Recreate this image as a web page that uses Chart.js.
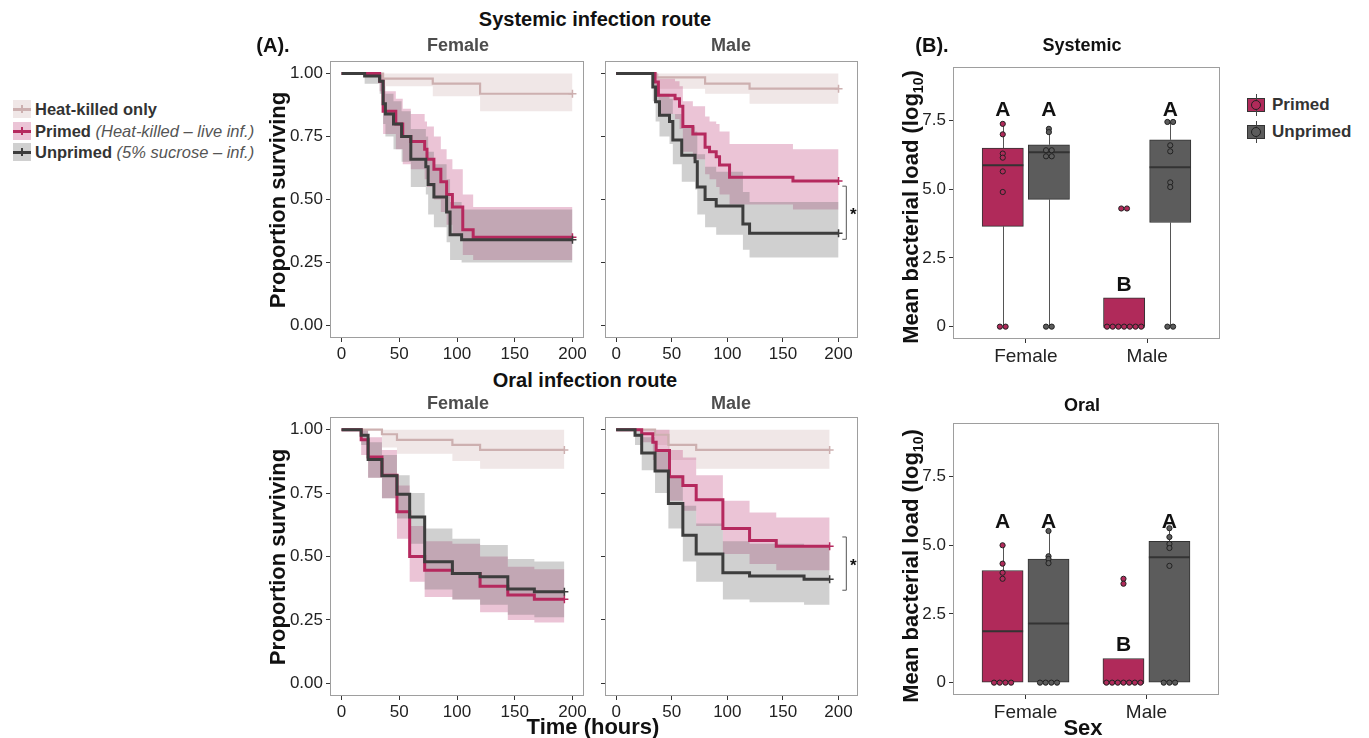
<!DOCTYPE html>
<html>
<head>
<meta charset="utf-8">
<script src="https://cdn.jsdelivr.net/npm/chart.js@4.4.1/dist/chart.umd.min.js"></script>
<style>
  body { margin: 0; background: #fff; font-family: "Liberation Sans", Arial, sans-serif; }
  #fig { position: relative; width: 1369px; height: 738px; overflow: hidden; }
  canvas { position: absolute; }
  .t { position: absolute; white-space: nowrap; color: #111; transform: translate(-50%, -50%); }
  .b { font-weight: bold; }
  .r { transform: translate(-50%, -50%) rotate(-90deg); }
  .strip { font-weight: bold; font-size: 18px; color: #4d4d4d; }
  .leg { position: absolute; left: 35px; font-size: 16.5px; color: #333; white-space: nowrap; transform: translateY(-50%); }
  .leg i { color: #555; font-weight: normal; }
  .key { position: absolute; left: 13px; width: 18px; height: 18px; transform: translateY(-50%); }
  .key .ln { position: absolute; left: 0; right: 0; top: 7.5px; height: 3px; }
  .key .tk { position: absolute; left: 8px; width: 2px; top: 5px; height: 8px; }
  .bkey { position: absolute; left: 1247px; width: 18px; height: 14px; transform: translateY(-50%); box-sizing: border-box; border: 1px solid #333; }
  .bkey .wh { position: absolute; left: 7.5px; width: 1px; top: -5px; height: 22px; background: #444; }
  .bkey .pt { position: absolute; left: 3px; top: 1px; width: 8px; height: 8px; border-radius: 50%; border: 1px solid #222; }
  .bleg { position: absolute; left: 1272px; font-size: 17px; font-weight: bold; color: #333; transform: translateY(-50%); }
</style>
</head>
<body>
<div id="fig">
  <canvas id="sysFem"></canvas>
  <canvas id="sysMale"></canvas>
  <canvas id="oralFem"></canvas>
  <canvas id="oralMale"></canvas>
  <canvas id="sysLoad"></canvas>
  <canvas id="oralLoad"></canvas>

  <div class="t b" style="left:595px;top:19px;font-size:20px;">Systemic infection route</div>
  <div class="t b" style="left:273px;top:45px;font-size:20px;">(A).</div>
  <div class="t strip" style="left:458px;top:45px;">Female</div>
  <div class="t strip" style="left:731px;top:45px;">Male</div>
  <div class="t b" style="left:585px;top:380px;font-size:20px;">Oral infection route</div>
  <div class="t strip" style="left:458px;top:403px;">Female</div>
  <div class="t strip" style="left:731px;top:403px;">Male</div>
  <div class="t b r" style="left:278px;top:200px;font-size:22px;">Proportion surviving</div>
  <div class="t b r" style="left:278px;top:557px;font-size:22px;">Proportion surviving</div>
  <div class="t b" style="left:593px;top:727px;font-size:22px;">Time (hours)</div>

  <div class="t b" style="left:932px;top:45px;font-size:20px;">(B).</div>
  <div class="t b" style="left:1082px;top:45px;font-size:18px;">Systemic</div>
  <div class="t b" style="left:1082px;top:405px;font-size:18px;">Oral</div>
  <div class="t b r" style="left:912px;top:207px;font-size:22px;">Mean bacterial load (log<sub style="font-size:14px;">10</sub>)</div>
  <div class="t b r" style="left:912px;top:566px;font-size:22px;">Mean bacterial load (log<sub style="font-size:14px;">10</sub>)</div>
  <div class="t b" style="left:1083px;top:728px;font-size:22px;">Sex</div>

  <div class="key" style="top:109px;background:rgba(205,176,176,0.3);"><div class="ln" style="background:#cdb0b0;"></div><div class="tk" style="background:#cdb0b0;"></div></div>
  <div class="leg" style="top:109px;"><b>Heat-killed only</b></div>
  <div class="key" style="top:131px;background:rgba(190,60,120,0.3);"><div class="ln" style="background:#b5295e;"></div><div class="tk" style="background:#b5295e;"></div></div>
  <div class="leg" style="top:131px;"><b>Primed</b> <i>(Heat-killed – live inf.)</i></div>
  <div class="key" style="top:152px;background:rgba(100,100,100,0.3);"><div class="ln" style="background:#3d3d3d;"></div><div class="tk" style="background:#3d3d3d;"></div></div>
  <div class="leg" style="top:152px;"><b>Unprimed</b> <i>(5% sucrose – inf.)</i></div>

  <div class="bkey" style="top:105px;background:#b02a5a;"><div class="wh"></div><div class="pt" style="background:#b02a5a;"></div></div>
  <div class="bleg" style="top:105px;">Primed</div>
  <div class="bkey" style="top:132px;background:#5c5c5c;"><div class="wh"></div><div class="pt" style="background:#5c5c5c;"></div></div>
  <div class="bleg" style="top:132px;">Unprimed</div>
</div>

<script>
// ---- axis ticks ----
const timeTicks = [0, 50, 100, 150, 200];
const survTicks = [0, 0.25, 0.5, 0.75, 1];
const loadTicks = [0, 2.5, 5, 7.5];
const sexes = ['Female', 'Male'];

// ---- survival, systemic route, females ----
const sfHeatT = [0, 36, 79, 120, 200];
const sfHeatS = [1, 0.98, 0.96, 0.92, 0.92];
const sfHeatLo = [1, 0.95, 0.91, 0.85, 0.85];
const sfHeatHi = [1, 1, 1, 1, 1];
const sfPrimT = [0, 33, 36, 47, 53, 60, 72, 74, 80, 86, 91, 96, 105, 114, 200];
const sfPrimS = [1, 0.97, 0.85, 0.80, 0.75, 0.73, 0.70, 0.66, 0.62, 0.57, 0.52, 0.47, 0.38, 0.35, 0.35];
const sfPrimLo = [1, 0.93, 0.76, 0.70, 0.64, 0.62, 0.58, 0.55, 0.50, 0.45, 0.40, 0.36, 0.28, 0.26, 0.26];
const sfPrimHi = [1, 1, 0.93, 0.90, 0.86, 0.84, 0.81, 0.79, 0.75, 0.70, 0.66, 0.62, 0.52, 0.47, 0.47];
const sfUnpT = [0, 20, 33, 36, 38, 45, 52, 60, 73, 75, 80, 91, 94, 104, 200];
const sfUnpS = [1, 0.99, 0.97, 0.88, 0.84, 0.80, 0.75, 0.66, 0.63, 0.56, 0.51, 0.45, 0.36, 0.34, 0.34];
const sfUnpLo = [1, 0.96, 0.92, 0.80, 0.75, 0.70, 0.65, 0.55, 0.52, 0.44, 0.39, 0.33, 0.26, 0.25, 0.25];
const sfUnpHi = [1, 1, 1, 0.95, 0.92, 0.89, 0.85, 0.78, 0.75, 0.69, 0.64, 0.58, 0.49, 0.46, 0.46];

// ---- survival, systemic route, males ----
const smHeatT = [0, 36, 80, 120, 200];
const smHeatS = [1, 0.985, 0.96, 0.94, 0.94];
const smHeatLo = [1, 0.94, 0.92, 0.88, 0.88];
const smHeatHi = [1, 1, 1, 1, 1];
const smPrimT = [0, 35, 38, 53, 57, 60, 69, 80, 84, 90, 93, 102, 159, 200];
const smPrimS = [1, 0.967, 0.914, 0.90, 0.87, 0.79, 0.76, 0.707, 0.69, 0.67, 0.637, 0.588, 0.573, 0.573];
const smPrimLo = [1, 0.91, 0.84, 0.82, 0.78, 0.69, 0.66, 0.60, 0.58, 0.55, 0.52, 0.48, 0.46, 0.46];
const smPrimHi = [1, 1, 0.98, 0.97, 0.95, 0.89, 0.87, 0.83, 0.81, 0.80, 0.77, 0.72, 0.70, 0.70];
const smUnpT = [0, 33, 35.5, 39, 48, 51, 59, 71, 73, 80, 90, 114, 120, 200];
const smUnpS = [1, 0.947, 0.888, 0.835, 0.81, 0.736, 0.676, 0.65, 0.55, 0.50, 0.474, 0.403, 0.366, 0.366];
const smUnpLo = [1, 0.89, 0.81, 0.75, 0.72, 0.64, 0.57, 0.54, 0.44, 0.39, 0.36, 0.30, 0.27, 0.27];
const smUnpHi = [1, 1, 0.96, 0.92, 0.90, 0.84, 0.79, 0.77, 0.68, 0.63, 0.61, 0.53, 0.49, 0.49];
const smBracket = [0.553, 0.342];

// ---- survival, oral route, females ----
const ofHeatT = [0, 35, 48, 96, 120, 193];
const ofHeatS = [1, 0.982, 0.96, 0.94, 0.92, 0.92];
const ofHeatLo = [1, 0.93, 0.905, 0.877, 0.846, 0.846];
const ofHeatHi = [1, 1, 1, 1, 1, 1];
const ofPrimT = [0, 17, 23, 35, 48, 59, 72, 96, 120, 144, 167, 193];
const ofPrimS = [1, 0.96, 0.892, 0.82, 0.676, 0.50, 0.446, 0.433, 0.383, 0.348, 0.331, 0.331];
const ofPrimLo = [1, 0.90, 0.81, 0.73, 0.57, 0.40, 0.34, 0.33, 0.28, 0.25, 0.24, 0.24];
const ofPrimHi = [1, 1, 0.97, 0.92, 0.78, 0.62, 0.56, 0.55, 0.50, 0.46, 0.45, 0.45];
const ofUnpT = [0, 17, 23, 35, 48, 59, 72, 96, 120, 144, 167, 193];
const ofUnpS = [1, 0.978, 0.882, 0.818, 0.745, 0.656, 0.479, 0.433, 0.42, 0.372, 0.361, 0.361];
const ofUnpLo = [1, 0.94, 0.81, 0.73, 0.65, 0.55, 0.37, 0.33, 0.31, 0.27, 0.26, 0.26];
const ofUnpHi = [1, 1, 0.95, 0.90, 0.82, 0.75, 0.61, 0.57, 0.545, 0.49, 0.48, 0.48];

// ---- survival, oral route, males ----
const omHeatT = [0, 35, 47, 72, 192];
const omHeatS = [1, 0.98, 0.94, 0.92, 0.92];
const omHeatLo = [1, 0.94, 0.88, 0.846, 0.846];
const omHeatHi = [1, 1, 1, 1, 1];
const omPrimT = [0, 23, 33, 36, 48, 60, 72, 96, 120, 144, 192];
const omPrimS = [1, 0.984, 0.95, 0.918, 0.814, 0.78, 0.724, 0.61, 0.563, 0.54, 0.54];
const omPrimLo = [1, 0.95, 0.88, 0.84, 0.72, 0.68, 0.62, 0.51, 0.47, 0.446, 0.446];
const omPrimHi = [1, 1, 1, 1, 0.92, 0.89, 0.82, 0.72, 0.673, 0.654, 0.654];
const omUnpT = [0, 17, 23, 35, 47, 60, 72, 96, 120, 169, 192];
const omUnpS = [1, 0.978, 0.908, 0.837, 0.709, 0.584, 0.51, 0.436, 0.423, 0.41, 0.41];
const omUnpLo = [1, 0.94, 0.84, 0.75, 0.61, 0.48, 0.40, 0.33, 0.32, 0.31, 0.31];
const omUnpHi = [1, 1, 0.97, 0.92, 0.82, 0.70, 0.63, 0.56, 0.55, 0.54, 0.54];
const omBracket = [0.577, 0.367];

// ---- bacterial load: [lower whisker, q1, median, q3, upper whisker] per sex ----
const sysPrimStats = [[0, 3.65, 5.87, 6.5, 7.38], [0, 0, 0, 1.05, 1.05]];
const sysUnpStats = [[0, 4.63, 6.35, 6.62, 7.2], [0, 3.79, 5.8, 6.8, 7.45]];
const sysPrimPts = [[7.38, 7.0, 6.3, 6.15, 5.65, 4.9, 0, 0], [4.3, 4.3, 0, 0, 0, 0, 0, 0, 0]];
const sysUnpPts = [[7.2, 7.08, 6.42, 6.42, 6.2, 6.2, 0, 0], [7.45, 7.45, 6.6, 6.38, 5.25, 5.08, 0, 0]];
const sysLetters = ['A', 'A', 'B', 'A'];
const sysLetterAt = [7.86, 7.86, 1.5, 7.86];

const oralPrimStats = [[0, 0, 1.87, 4.08, 5.0], [0, 0, 0, 0.88, 0.88]];
const oralUnpStats = [[0, 0, 2.15, 4.5, 5.52], [0, 0, 4.56, 5.14, 5.62]];
const oralPrimPts = [[5.0, 4.33, 4.0, 3.78, 0, 0, 0, 0], [3.78, 3.6, 0, 0, 0, 0, 0, 0, 0]];
const oralUnpPts = [[5.52, 4.6, 4.5, 4.35, 0, 0, 0, 0], [5.62, 5.3, 5.05, 4.9, 4.25, 0, 0, 0]];
const oralLetters = ['A', 'A', 'B', 'A'];
const oralLetterAt = [5.83, 5.83, 1.35, 5.83];

// ---- colours ----
const HEAT = '#cdb0b0', HEAT_BAND = 'rgba(205,176,176,0.3)';
const PRIM = '#b5295e', PRIM_BAND = 'rgba(190,60,120,0.3)';
const UNP = '#3d3d3d', UNP_BAND = 'rgba(100,100,100,0.3)';
const BOX_PRIM = '#b02a5a', BOX_UNP = '#5c5c5c';

const tickFont = { family: '"Liberation Sans", Arial, sans-serif', size: 17 };

function place(id, area, wy, hx) {
  const pad = 12;
  const c = document.getElementById(id);
  const left = area[0] - wy, top = area[1] - pad;
  c.width = area[2] - left + pad;
  c.height = area[3] - top + hx;
  c.style.left = left + 'px';
  c.style.top = top + 'px';
  return { c, padding: { top: pad, right: pad, left: 0, bottom: 0 } };
}

function pts(t, v) {
  return t.map((x, i) => ({ x: x, y: v[i] }));
}

const frame = {
  id: 'frame',
  afterDraw(chart) {
    const a = chart.chartArea, ctx = chart.ctx;
    ctx.save();
    ctx.strokeStyle = '#9e9e9e';
    ctx.lineWidth = 1;
    ctx.strokeRect(Math.round(a.left) + 0.5, Math.round(a.top) + 0.5, Math.round(a.right - a.left) - 1, Math.round(a.bottom - a.top) - 1);
    const br = chart.options.plugins.bracket;
    if (br && br.range) {
      const x = chart.scales.x.getPixelForValue(br.at);
      const y1 = chart.scales.y.getPixelForValue(br.range[0]);
      const y2 = chart.scales.y.getPixelForValue(br.range[1]);
      ctx.strokeStyle = '#555';
      ctx.beginPath();
      ctx.moveTo(x - 4, y1); ctx.lineTo(x, y1); ctx.lineTo(x, y2); ctx.lineTo(x - 4, y2);
      ctx.stroke();
      ctx.fillStyle = '#111';
      ctx.font = 'bold 17px "Liberation Sans", Arial, sans-serif';
      ctx.textAlign = 'center';
      ctx.textBaseline = 'middle';
      ctx.fillText('*', x + 7, (y1 + y2) / 2 + 3);
    }
    ctx.restore();
  }
};

function axisGrid() {
  return { display: true, drawOnChartArea: false, drawTicks: true, tickLength: 4, color: '#333', lineWidth: 1 };
}

// Kaplan-Meier steps: value holds until the next event time, then drops ('before' in Chart.js terms)
function survChart(id, area, xMax, series, showY, bracket) {
  const p = place(id, area, 50, 30);
  const datasets = [];
  series.forEach((s, k) => {
    datasets.push({ data: pts(s.t, s.hi), borderWidth: 0, pointRadius: 0, stepped: 'before', fill: '+1', backgroundColor: s.band, order: 10 - k });
    datasets.push({ data: pts(s.t, s.lo), borderWidth: 0, pointRadius: 0, stepped: 'before', fill: false, order: 10 - k });
  });
  series.forEach((s, k) => {
    const last = s.t.length - 1;
    datasets.push({
      data: pts(s.t, s.s), borderColor: s.color, borderWidth: s.width, stepped: 'before', fill: false,
      pointStyle: 'cross', pointRadius: ctx => ctx.dataIndex === last ? 4 : 0,
      pointBorderColor: s.color, pointBorderWidth: 1.5, order: 3 - k
    });
  });
  new Chart(p.c, {
    type: 'line',
    data: { datasets },
    options: {
      responsive: false,
      animation: false,
      layout: { padding: p.padding },
      plugins: { legend: { display: false }, tooltip: { enabled: false }, bracket: { at: 207, range: bracket } },
      scales: {
        x: {
          type: 'linear', min: -10, max: xMax,
          afterBuildTicks: s => { s.ticks = timeTicks.map(v => ({ value: v })); },
          afterFit: s => { s.height = 30; s.paddingLeft = 0; s.paddingRight = 0; },
          ticks: { font: tickFont, color: '#222', padding: 2, maxRotation: 0, callback: v => v },
          grid: axisGrid(), border: { display: false }
        },
        y: {
          min: -0.05, max: 1.05,
          afterBuildTicks: s => { s.ticks = survTicks.map(v => ({ value: v })); },
          afterFit: s => { s.width = 50; s.paddingTop = 0; s.paddingBottom = 0; },
          ticks: { font: tickFont, color: '#222', padding: 3, callback: v => showY ? v.toFixed(2) : '' },
          grid: axisGrid(), border: { display: false }
        }
      }
    },
    plugins: [frame]
  });
}

function group(t, s, lo, hi, color, band, width) {
  return { t, s, lo, hi, color, band, width };
}

survChart('sysFem', [330, 61, 584, 338], 210, [
  group(sfHeatT, sfHeatS, sfHeatLo, sfHeatHi, HEAT, HEAT_BAND, 2.2),
  group(sfPrimT, sfPrimS, sfPrimLo, sfPrimHi, PRIM, PRIM_BAND, 3),
  group(sfUnpT, sfUnpS, sfUnpLo, sfUnpHi, UNP, UNP_BAND, 3)
], true, null);
survChart('sysMale', [605, 61, 858, 338], 217.5, [
  group(smHeatT, smHeatS, smHeatLo, smHeatHi, HEAT, HEAT_BAND, 2.2),
  group(smPrimT, smPrimS, smPrimLo, smPrimHi, PRIM, PRIM_BAND, 3),
  group(smUnpT, smUnpS, smUnpLo, smUnpHi, UNP, UNP_BAND, 3)
], false, smBracket);
survChart('oralFem', [330, 417, 584, 696], 210, [
  group(ofHeatT, ofHeatS, ofHeatLo, ofHeatHi, HEAT, HEAT_BAND, 2.2),
  group(ofPrimT, ofPrimS, ofPrimLo, ofPrimHi, PRIM, PRIM_BAND, 3),
  group(ofUnpT, ofUnpS, ofUnpLo, ofUnpHi, UNP, UNP_BAND, 3)
], true, null);
survChart('oralMale', [605, 417, 858, 696], 217.5, [
  group(omHeatT, omHeatS, omHeatLo, omHeatHi, HEAT, HEAT_BAND, 2.2),
  group(omPrimT, omPrimS, omPrimLo, omPrimHi, PRIM, PRIM_BAND, 3),
  group(omUnpT, omUnpS, omUnpLo, omUnpHi, UNP, UNP_BAND, 3)
], false, omBracket);

// ---- box plots ----
const DODGE = 0.19, BOX_W = 0.34, DOT_STEP = 0.047;

function dots(groups, off) {
  const out = [];
  groups.forEach((vals, gi) => {
    const bins = [];
    vals.forEach(v => {
      let b = bins.find(b => Math.abs(b.v - v) < 0.08);
      if (!b) { b = { v: v, n: 0 }; bins.push(b); }
      b.n++;
    });
    bins.forEach(b => {
      for (let j = 0; j < b.n; j++) out.push({ x: gi + 1 + off + (j - (b.n - 1) / 2) * DOT_STEP, y: b.v });
    });
  });
  return out;
}

const boxParts = {
  id: 'boxParts',
  beforeDatasetsDraw(chart) {
    // whiskers
    const ctx = chart.ctx, xs = chart.scales.x, ys = chart.scales.y;
    ctx.save();
    ctx.strokeStyle = '#555';
    ctx.lineWidth = 1;
    chart.data.datasets.forEach(ds => {
      if (!ds.stats) return;
      ds.stats.forEach((st, i) => {
        const x = Math.round(xs.getPixelForValue(i + 1 + ds.off)) + 0.5;
        ctx.beginPath();
        ctx.moveTo(x, ys.getPixelForValue(st[0])); ctx.lineTo(x, ys.getPixelForValue(st[1]));
        ctx.moveTo(x, ys.getPixelForValue(st[3])); ctx.lineTo(x, ys.getPixelForValue(st[4]));
        ctx.stroke();
      });
    });
    ctx.restore();
  },
  afterDatasetDraw(chart, args) {
    // medians
    const ds = chart.data.datasets[args.index];
    if (!ds.stats) return;
    const ctx = chart.ctx, xs = chart.scales.x, ys = chart.scales.y;
    const half = (xs.getPixelForValue(BOX_W) - xs.getPixelForValue(0)) / 2;
    ctx.save();
    ctx.strokeStyle = '#333';
    ctx.lineWidth = 2;
    ds.stats.forEach((st, i) => {
      const x = xs.getPixelForValue(i + 1 + ds.off);
      const y = ys.getPixelForValue(st[2]);
      ctx.beginPath(); ctx.moveTo(x - half, y); ctx.lineTo(x + half, y); ctx.stroke();
    });
    ctx.restore();
  },
  afterDraw(chart) {
    const o = chart.options.plugins.boxParts;
    const ctx = chart.ctx, xs = chart.scales.x, ys = chart.scales.y;
    ctx.save();
    ctx.fillStyle = '#111';
    ctx.font = 'bold 21px "Liberation Sans", Arial, sans-serif';
    ctx.textAlign = 'center';
    ctx.textBaseline = 'middle';
    o.letters.forEach((l, k) => {
      const sex = Math.floor(k / 2), off = k % 2 ? DODGE : -DODGE;
      ctx.fillText(l, xs.getPixelForValue(sex + 1 + off), ys.getPixelForValue(o.letterAt[k]));
    });
    ctx.restore();
  }
};

function loadChart(id, area, primStats, unpStats, primPts, unpPts, letters, letterAt) {
  const p = place(id, area, 40, 32);
  const unitPx = (area[2] - area[0]) / 2.2;
  const bar = (stats, off, color, label) => ({
    type: 'bar', label, stats, off,
    data: stats.map((st, i) => ({ x: i + 1 + off, y: [st[1], st[3]] })),
    backgroundColor: color, borderColor: '#333', borderWidth: 1, borderSkipped: false,
    barThickness: unitPx * BOX_W, grouped: false, order: 2
  });
  const scat = (vals, off, color) => ({
    type: 'scatter', data: dots(vals, off), pointRadius: 2.6, pointBackgroundColor: color,
    pointBorderColor: '#222', pointBorderWidth: 1, order: 1
  });
  new Chart(p.c, {
    type: 'bar',
    data: {
      datasets: [
        bar(primStats, -DODGE, BOX_PRIM, 'Primed'),
        bar(unpStats, DODGE, BOX_UNP, 'Unprimed'),
        scat(primPts, -DODGE, BOX_PRIM),
        scat(unpPts, DODGE, BOX_UNP)
      ]
    },
    options: {
      responsive: false,
      animation: false,
      layout: { padding: p.padding },
      plugins: { legend: { display: false }, tooltip: { enabled: false }, boxParts: { letters, letterAt } },
      scales: {
        x: {
          type: 'linear', min: 0.4, max: 2.6, offset: false,
          afterBuildTicks: s => { s.ticks = sexes.map((n, i) => ({ value: i + 1 })); },
          afterFit: s => { s.height = 32; s.paddingLeft = 0; s.paddingRight = 0; },
          ticks: { font: { family: tickFont.family, size: 19 }, color: '#222', padding: 2, maxRotation: 0, callback: v => sexes[v - 1] },
          grid: Object.assign(axisGrid(), { offset: false }), border: { display: false }
        },
        y: {
          type: 'linear', min: -0.45, max: 9.45, beginAtZero: false,
          afterBuildTicks: s => { s.ticks = loadTicks.map(v => ({ value: v })); },
          afterFit: s => { s.width = 40; s.paddingTop = 0; s.paddingBottom = 0; },
          ticks: { font: tickFont, color: '#222', padding: 3, callback: v => v === 0 ? '0' : v.toFixed(1) },
          grid: axisGrid(), border: { display: false }
        }
      }
    },
    plugins: [boxParts, frame]
  });
}

loadChart('sysLoad', [953, 67, 1220, 339], sysPrimStats, sysUnpStats, sysPrimPts, sysUnpPts, sysLetters, sysLetterAt);
loadChart('oralLoad', [953, 423, 1219, 695], oralPrimStats, oralUnpStats, oralPrimPts, oralUnpPts, oralLetters, oralLetterAt);
</script>
</body>
</html>
